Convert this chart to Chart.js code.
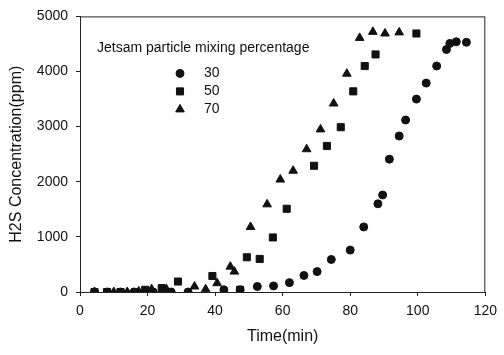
<!DOCTYPE html>
<html lang="en">
<head>
    <meta charset="UTF-8">
    <title>H2S Concentration vs Time</title>
    <script src="https://cdn.jsdelivr.net/npm/chart.js"></script>
    <style>
        body {
            margin: 0;
            background-color: #ffffff;
        }
        .chart-box {
            width: 504px;
            height: 355px;
        }
    </style>
</head>
<body>
    <div class="chart-box">
        <canvas id="h2sChart" width="504" height="355"></canvas>
    </div>
    <script>
        // Values
        const legendTitle = 'Jetsam particle mixing percentage';
        const seriesLabels = ['30', '50', '70'];

        const time30 = [4.3, 8.1, 12, 16, 21.7, 27, 32, 42.6, 47.4, 52.5, 57.3, 62, 66.3, 70.2, 74.4, 80, 84, 88.2, 89.6, 91.6, 94.5, 96.4, 99.6, 102.5, 105.6, 108.5, 109.5, 111.4, 114.4];
        const conc30 = [0, 0, 0, 0, 0, 0, 0, 40, 40, 100, 110, 170, 300, 370, 590, 760, 1180, 1600, 1760, 2410, 2830, 3120, 3500, 3790, 4100, 4400, 4510, 4540, 4530];

        const time50 = [4.3, 8, 12, 16.4, 19.3, 24.2, 29, 39.2, 47.4, 49.4, 53.2, 57.1, 61.2, 69.3, 73.1, 77.2, 80.9, 84.3, 87.5, 99.6];
        const conc50 = [0, 0, 0, 0, 40, 70, 190, 290, 40, 630, 600, 990, 1510, 2290, 2650, 2990, 3640, 4100, 4310, 4690];

        const time70 = [4.3, 10, 14, 17.4, 21.2, 25.6, 33.9, 37.2, 40.6, 44.5, 45.7, 50.5, 55.4, 59.3, 63.1, 67.1, 71.2, 75.1, 79, 82.8, 86.7, 90.3, 94.5];
        const conc70 = [0, 0, 0, 10, 50, 50, 100, 50, 160, 460, 370, 1180, 1590, 2040, 2200, 2590, 2950, 3420, 3960, 4610, 4720, 4690, 4710];

        const xTicks = [0, 20, 40, 60, 80, 100, 120];
        const yTicks = [0, 1000, 2000, 3000, 4000, 5000];

        function toPoints(xs, ys) {
            return xs.map((x, i) => ({ x: x, y: ys[i] }));
        }

        const ink = '#111111';
        const fontFamily = '"Liberation Sans", Arial, sans-serif';

        // Frame round the plot and the legend inside it
        const frameAndLegend = {
            id: 'frameAndLegend',
            afterDraw(chart) {
                const ctx = chart.ctx;
                const a = chart.chartArea;
                ctx.save();
                ctx.strokeStyle = '#222222';
                ctx.lineWidth = 1;
                ctx.strokeRect(a.left + 0.5, a.top + 0.5, a.right - a.left - 1, a.bottom - a.top);

                ctx.fillStyle = ink;
                ctx.strokeStyle = ink;
                ctx.font = '14px ' + fontFamily;
                ctx.textBaseline = 'middle';
                ctx.textAlign = 'left';
                ctx.fillText(legendTitle, a.left + 17, a.top + 32);
                chart.data.datasets.forEach((ds, i) => {
                    const y = a.top + 57 + i * 18;
                    Chart.helpers.drawPoint(ctx, {
                        pointStyle: ds.pointStyle,
                        radius: ds.pointRadius,
                        borderWidth: 1
                    }, a.left + 100, y);
                    ctx.fillStyle = ink;
                    ctx.fillText(ds.label, a.left + 124, y);
                });
                ctx.restore();
            }
        };

        const ctx = document.getElementById('h2sChart').getContext('2d');
        const chart = new Chart(ctx, {
            type: 'scatter',
            data: {
                datasets: [
                    {
                        label: seriesLabels[0],
                        data: toPoints(time30, conc30),
                        pointStyle: 'circle',
                        pointRadius: 4,
                        backgroundColor: ink,
                        borderColor: ink,
                        borderWidth: 1
                    },
                    {
                        label: seriesLabels[1],
                        data: toPoints(time50, conc50),
                        pointStyle: 'rect',
                        pointRadius: 5,
                        backgroundColor: ink,
                        borderColor: ink,
                        borderWidth: 1
                    },
                    {
                        label: seriesLabels[2],
                        data: toPoints(time70, conc70),
                        pointStyle: 'triangle',
                        pointRadius: 5,
                        backgroundColor: ink,
                        borderColor: ink,
                        borderWidth: 1
                    }
                ]
            },
            options: {
                responsive: false,
                animation: false,
                layout: {
                    padding: { top: 11, right: 12, left: 0, bottom: 0 }
                },
                plugins: {
                    legend: { display: false },
                    tooltip: { enabled: false }
                },
                scales: {
                    x: {
                        type: 'linear',
                        min: 0,
                        max: 120,
                        afterBuildTicks: scale => {
                            scale.ticks = xTicks.map(v => ({ value: v }));
                        },
                        afterFit: scale => {
                            scale.height = 63;
                        },
                        grid: {
                            display: true,
                            drawOnChartArea: false,
                            drawTicks: true,
                            tickLength: 4,
                            color: '#222222'
                        },
                        border: { display: true, color: '#222222' },
                        ticks: {
                            color: ink,
                            padding: 7,
                            maxRotation: 0,
                            callback: v => String(v),
                            font: { family: fontFamily, size: 14 }
                        },
                        title: {
                            display: true,
                            text: 'Time(min)',
                            color: ink,
                            font: { family: fontFamily, size: 16 },
                            padding: { top: 4, bottom: 9 }
                        }
                    },
                    y: {
                        type: 'linear',
                        min: 0,
                        max: 5000,
                        afterBuildTicks: scale => {
                            scale.ticks = yTicks.map(v => ({ value: v }));
                        },
                        afterFit: scale => {
                            scale.width = 80;
                        },
                        grid: {
                            display: true,
                            drawOnChartArea: false,
                            drawTicks: true,
                            tickLength: 4,
                            color: '#222222'
                        },
                        border: { display: true, color: '#222222' },
                        ticks: {
                            color: ink,
                            padding: 8,
                            callback: v => String(v),
                            font: { family: fontFamily, size: 14 }
                        },
                        title: {
                            display: true,
                            text: 'H2S Concentration(ppm)',
                            color: ink,
                            font: { family: fontFamily, size: 16 },
                            padding: { top: 7, bottom: 4 }
                        }
                    }
                }
            },
            plugins: [frameAndLegend]
        });
    </script>
</body>
</html>
